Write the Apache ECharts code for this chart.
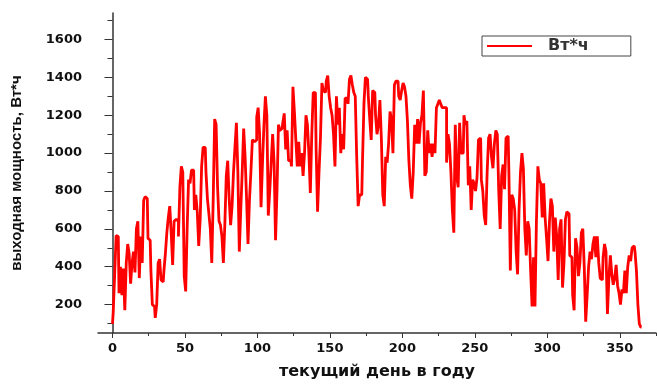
<!DOCTYPE html>
<html>
<head>
<meta charset="utf-8">
<script src="https://cdn.jsdelivr.net/npm/echarts@6/dist/echarts.min.js"></script>
<style>
  html, body { margin: 0; padding: 0; background: #fff; }
  #chart { width: 657px; height: 385px; }
</style>
</head>
<body>
<div id="chart"></div>
<script>
// выработка по дням (день 0..365), Вт*ч
var power = [
  98, 160, 360, 565, 560, 260, 400, 250, 390, 170,
  420, 520, 470, 310, 420, 480, 370, 600, 640, 340,
  560, 420, 750, 770, 760, 550, 540, 380, 200, 190,
  130, 200, 420, 440, 330, 320, 380, 470, 580, 660,
  720, 580, 410, 640, 650, 640, 560, 820, 930, 900,
  350, 270, 600, 860, 840, 910, 910, 700, 780, 690,
  510, 650, 930, 1030, 1030, 900, 760, 680, 600, 420,
  760, 1180, 1150, 820, 640, 620, 560, 420, 620, 880,
  960, 760, 620, 720, 900, 1030, 1160, 900, 480, 700,
  900, 1130, 980, 760, 520, 750, 900, 1070, 1060, 1070,
  1190, 1240, 1100, 714, 950, 1150, 1300, 1200, 670, 800,
  950, 1100, 950, 540, 800, 1150, 1120, 1130, 1160, 1210,
  1020, 1120, 960, 960, 930, 1350, 1220, 1070, 930, 1060,
  930, 1000, 880, 1000, 1200, 1150, 1000, 790, 1100, 1320,
  1320, 1020, 690, 900, 1080, 1370, 1330, 1320, 1380, 1410,
  1300, 1240, 1200, 1100, 930, 1300, 1150, 1240, 1000, 1100,
  1020, 1290, 1290, 1260, 1390, 1410, 1360, 1320, 1300, 980,
  720, 780, 780, 960, 1260, 1400, 1390, 1300, 1180, 1070,
  1330, 1320, 1200, 1100, 1150, 1280, 1080, 780, 720, 980,
  950, 1050, 1220, 1180, 1000, 1360, 1380, 1380, 1300, 1280,
  1330, 1370, 1350, 1300, 1170, 960, 830, 760, 900, 1150,
  1050, 1180, 1050, 1160, 1200, 1330, 880, 900, 1120, 1000,
  1050, 980, 1050, 1000, 1240, 1260, 1280, 1260, 1240, 1240,
  1240, 950, 1100, 1050, 900, 700, 580, 1150, 880, 820,
  1160, 1000, 1000, 1200, 1150, 1170, 830, 930, 700, 860,
  840, 800, 870, 1070, 1080, 860, 800, 670, 620, 900,
  1080, 1100, 980, 920, 1050, 1120, 1100, 800, 600, 880,
  940, 810, 1080, 1090, 900, 380, 780, 760, 700, 480,
  360, 700, 900, 1000, 920, 600, 460, 640, 600, 380,
  190, 450, 190, 640, 930, 860, 840, 660, 840, 660,
  550, 430, 640, 760, 720, 480, 660, 560, 330, 600,
  650, 290, 420, 650, 690, 680, 460, 450, 250, 170,
  550, 500, 350, 420, 580, 600, 400, 110, 250, 400,
  480, 440, 520, 560, 450, 560, 420, 340, 330, 450,
  520, 480, 150, 340, 460, 360, 305, 340, 410, 300,
  260, 200, 280, 260, 380, 260, 400, 460, 430, 500,
  510, 480, 380, 200, 98, 81
]

// подписи и деления осей
var xTicks = [0, 50, 100, 150, 200, 250, 300, 350]
var xMinor = [25, 75, 125, 175, 225, 275, 325, 375]
var yTicks = [200, 400, 600, 800, 1000, 1200, 1400, 1600]
var yMinor = [100, 300, 500, 700, 900, 1100, 1300, 1500, 1700]

var seriesData = power.map(function (v, i) { return [i, v] })

var labelFont = {
  color: '#111',
  fontFamily: 'DejaVu Sans',
  fontWeight: 'bold',
  fontSize: 13,
  formatter: function (v) { return String(v) }
}
var axisLine = { show: true, lineStyle: { color: '#333', width: 1.5 } }

var chart = echarts.init(document.getElementById('chart'), null, { renderer: 'canvas' })

var option = {
  animation: false,
  backgroundColor: '#fff',
  grid: { left: 98, right: 1, top: 13, bottom: 49, containLabel: false },
  legend: {
    left: 482,
    top: 36,
    padding: [2, 42, 2, 5],
    borderColor: '#444',
    borderWidth: 1,
    icon: 'rect',
    itemWidth: 45,
    itemHeight: 2,
    textStyle: {
      color: '#333',
      fontFamily: 'DejaVu Sans',
      fontWeight: 'bold',
      fontSize: 16,
      padding: [0, 0, 0, 11]
    },
    data: ['Вт*ч']
  },
  xAxis: [{
    type: 'value',
    min: -10,
    max: 375,
    name: 'текущий день в году',
    nameLocation: 'middle',
    nameGap: 31,
    nameTextStyle: { color: '#111', fontFamily: 'DejaVu Sans', fontWeight: 'bold', fontSize: 16 },
    axisLine: axisLine,
    axisTick: { show: true, customValues: xTicks, length: 5, lineStyle: { color: '#333', width: 1 } },
    axisLabel: Object.assign({ customValues: xTicks, margin: 9 }, labelFont),
    splitLine: { show: false }
  }, {
    type: 'value',
    min: -10,
    max: 375,
    position: 'bottom',
    axisLine: { show: false },
    axisTick: { show: true, customValues: xMinor, length: 3, lineStyle: { color: '#333', width: 1 } },
    axisLabel: { show: false },
    splitLine: { show: false }
  }],
  yAxis: [{
    type: 'value',
    min: 50,
    max: 1740,
    name: 'выходная мощность, Вт*ч',
    nameLocation: 'middle',
    nameGap: 74,
    nameTextStyle: {
      color: '#111',
      fontFamily: 'Liberation Sans',
      fontWeight: 'bold',
      fontSize: 15
    },
    axisLine: axisLine,
    axisTick: { show: true, customValues: yTicks, length: 8, lineStyle: { color: '#333', width: 1 } },
    axisLabel: Object.assign({ customValues: yTicks, margin: 16 }, labelFont),
    splitLine: { show: false }
  }, {
    type: 'value',
    min: 50,
    max: 1740,
    position: 'left',
    axisLine: { show: false },
    axisTick: { show: true, customValues: yMinor, length: 5, lineStyle: { color: '#333', width: 1 } },
    axisLabel: { show: false },
    splitLine: { show: false }
  }],
  series: [{
    name: 'Вт*ч',
    type: 'line',
    xAxisIndex: 0,
    yAxisIndex: 0,
    step: 'middle',
    showSymbol: false,
    symbol: 'none',
    lineStyle: { color: '#ff0000', width: 2.8 },
    itemStyle: { color: '#ff0000' },
    data: seriesData
  }]
}

chart.setOption(option)
</script>
</body>
</html>
